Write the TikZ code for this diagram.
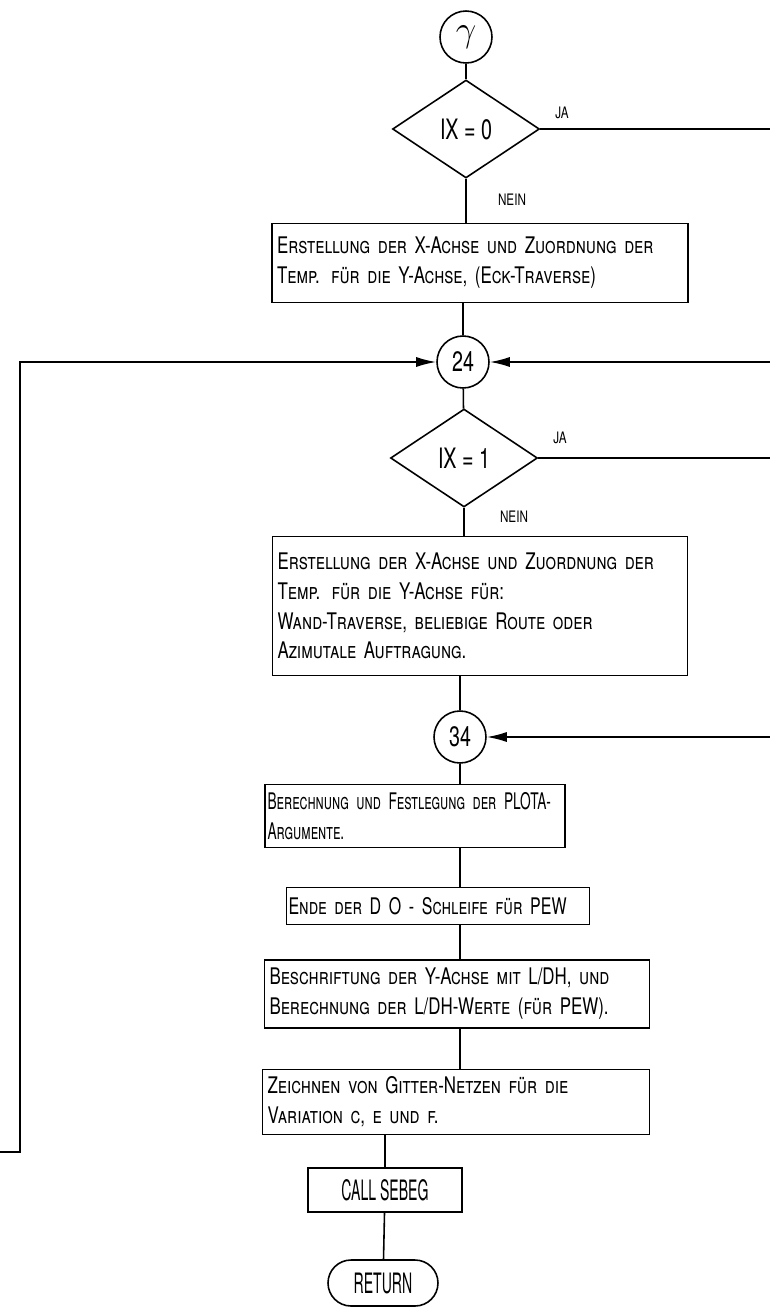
\documentclass[tikz,border=0pt]{standalone}
\usepackage{fontspec}
\setmainfont{TeX Gyre Heros}[FakeStretch=0.74]
\newfontfamily\plotnarrow{TeX Gyre Heros}[FakeStretch=0.7]
\newfontfamily\plotdense{TeX Gyre Heros}[FakeStretch=0.6]
\newfontfamily\plotthin{TeX Gyre Heros}[FakeStretch=0.5]
\usetikzlibrary{shapes.geometric,arrows.meta,positioning}

\begin{document}
\begin{tikzpicture}[
  x=0.02cm, y=-0.02cm,
  line width=0.9pt,
  conn/.style={circle, draw, minimum size=1.04cm, inner sep=0pt,
               font=\plotnarrow\fontsize{16}{18}\selectfont},
  test/.style={diamond, draw, minimum width=2.94cm, minimum height=1.96cm,
               inner sep=0pt, font=\plotnarrow\fontsize{16}{18}\selectfont},
  proc/.style={rectangle, draw, align=left, inner xsep=0.1cm, inner ysep=0.06cm,
               font=\fontsize{13}{17}\selectfont\scshape},
  denseproc/.style={proc, inner xsep=0.05cm,
               font=\plotdense\fontsize{13}{17}\selectfont\scshape},
  narrowproc/.style={proc, inner xsep=0.04cm,
               font=\plotnarrow\fontsize{13}{17}\selectfont\scshape},
  callbox/.style={rectangle, draw, minimum width=3.08cm, minimum height=0.88cm,
               font=\plotthin\fontsize{16}{18}\selectfont},
  term/.style={rectangle, draw, rounded corners=0.46cm, minimum width=2.2cm,
               minimum height=0.92cm, font=\plotthin\fontsize{16}{18}\selectfont},
  arr/.style={-{Latex[length=4mm,width=2mm]}},
  lbl/.style={font=\small}
]
\useasboundingbox (0,0) rectangle (770,1309);

% main column
\node[conn] (gam) at (466,37) {\huge$\gamma$};
\node[test] (d0) at (466,129) {IX = 0};
\node[lbl] (ja0) at (562,113) {JA};
\node[lbl] (nein0) at (512,200) {NEIN};
\node[proc, text width=8.12cm, minimum height=1.58cm] (b1) at (480,263)
  {Erstellung der X-Achse und Zuordnung der\\
   Temp. für die Y-Achse, (Eck-Traverse)};
\node[conn] (c24) at (463,362) {24};
\node[test] (d1) at (464,458) {IX = 1};
\node[lbl] (ja1) at (560,438) {JA};
\node[lbl] (nein1) at (514,517) {NEIN};
\node[proc, text width=8.1cm, minimum height=2.78cm] (b2) at (480,606)
  {Erstellung der X-Achse und Zuordnung der\\
   Temp. für die Y-Achse für:\\
   Wand-Traverse, beliebige Route oder\\
   Azimutale Auftragung.};
\node[conn] (c34) at (460,737) {34};
\node[denseproc, text width=5.9cm, minimum height=1.26cm] (b3) at (415,816)
  {Berechnung und Festlegung der PLOTA-\\
   Argumente.};
\node[narrowproc, text width=5.98cm, minimum height=0.74cm] (b4) at (438,906)
  {Ende der D O - Schleife für PEW};
\node[proc, text width=7.5cm, minimum height=1.36cm] (b5) at (457,994)
  {Beschriftung der Y-Achse mit L/DH, und\\
   Berechnung der L/DH-Werte (für PEW).};
\node[proc, text width=7.54cm, minimum height=1.3cm] (b6) at (456,1102)
  {Zeichnen von Gitter-Netzen für die\\
   Variation c, e und f.};
\node[callbox] (call) at (385,1190) {CALL SEBEG};
\node[term] (ret) at (383,1283) {RETURN};

% loose ends at the page border
\coordinate (ja0end) at (770,129);
\coordinate (ja1end) at (770,458);
\coordinate (in24) at (770,362);
\coordinate (in34) at (770,737);
\coordinate (loopin) at (0,1152);
\coordinate (loopturn) at (20,1152);

\draw (gam) -- (d0);
\draw (d0) -- (d0 |- b1.north);
\draw (b1.south -| c24) -- (c24);
\draw (c24) -- (d1);
\draw (d1) -- (d1 |- b2.north);
\draw (b2.south -| c34) -- (c34);
\draw (c34) -- (c34 |- b3.north);
\draw (c34 |- b3.south) -- (c34 |- b4.north);
\draw (c34 |- b4.south) -- (c34 |- b5.north);
\draw (c34 |- b5.south) -- (c34 |- b6.north);
\draw (call |- b6.south) -- (call);
\draw (call) -- (ret);

\draw (d0) -- (ja0end);
\draw (d1) -- (ja1end);
\draw[arr] (in24) -- (c24);
\draw[arr] (in34) -- (c34);
\draw[arr] (loopin) -- (loopturn) |- (c24);
\end{tikzpicture}
\end{document}
